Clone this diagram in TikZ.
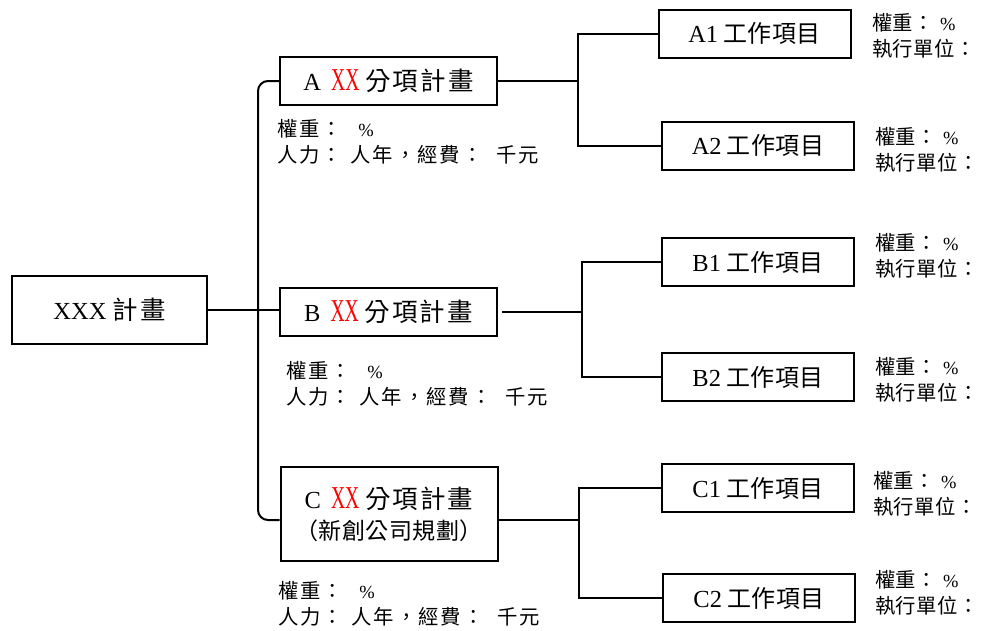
\documentclass[tikz,border=0pt]{standalone}
\usepackage{fontspec}
\setmainfont{Liberation Serif}
\newfontfamily\cjkwide[LetterSpace=8, Scale=1.04]{Noto Sans CJK TC}
\newfontfamily\cjkpar[LetterSpace=2, Scale=0.94]{Noto Sans CJK TC}
\newfontfamily\cjkitem[LetterSpace=2, Scale=0.98]{Noto Sans CJK TC}
\newfontfamily\cjknote[LetterSpace=10, Scale=1.1]{Noto Sans CJK TC}
\newfontfamily\cjkside[LetterSpace=2, Scale=1.1]{Noto Sans CJK TC}
\usetikzlibrary{positioning}
\tikzset{
	box/.style={draw, line width=2pt, inner sep=0pt, align=center},
	plan/.style={box, minimum width=195pt, minimum height=68pt},
	subplan/.style={box, minimum width=217pt, minimum height=48pt},
	item/.style={box, minimum width=192pt, minimum height=48pt},
	note/.style={anchor=west, align=left, inner sep=0pt, font=\fontsize{18.5}{26}\selectfont},
	link/.style={line width=2pt}
}
\newcommand{\xx}{\textcolor{red}{\scalebox{0.8}[1.3]{XX}}}
\newcommand{\subnote}{\cjknote 權重：\hspace{16pt}\rmfamily\%\\ \cjknote 人力：\hspace{8pt}人年，經費：\hspace{14pt}千元}
\newcommand{\itemnote}{\cjkside 權重：\hspace{6pt}\rmfamily\%\\ \cjkside 執行單位：}

\begin{document}
\begin{tikzpicture}[x=1pt, y=-1pt, font=\fontsize{24.5}{31}\selectfont]
\useasboundingbox (0,0) rectangle (981,630);
% main plan and sub plans
\node (xxx) [plan] at (109.5,310) {XXX\hspace{6pt}\cjkwide 計畫};
\node (pa) [subplan] at (388.5,81) {A\hspace{10pt}\xx\hspace{6pt}\cjkwide 分項計畫};
\node (pb) [subplan] at (388.5,312) {B\hspace{10pt}\xx\hspace{6pt}\cjkwide 分項計畫};
\node (pc) [subplan, minimum height=94pt] at (389,514) {C\hspace{10pt}\xx\hspace{6pt}\cjkwide 分項計畫\\ \cjkpar （新創公司規劃）};
% work items
\node (a1) [item] at (754.5,33.5) {A1\hspace{5pt}\cjkitem 工作項目};
\node (a2) [item] at (758,145.5) {A2\hspace{5pt}\cjkitem 工作項目};
\node (b1) [item] at (758,262) {B1\hspace{5pt}\cjkitem 工作項目};
\node (b2) [item] at (758,377) {B2\hspace{5pt}\cjkitem 工作項目};
\node (c1) [item] at (758,488) {C1\hspace{5pt}\cjkitem 工作項目};
\node (c2) [item] at (759,598) {C2\hspace{5pt}\cjkitem 工作項目};
% notes
\node (pa-note) [note] at (277,142) {\subnote};
\node (pb-note) [note] at (286,384) {\subnote};
\node (pc-note) [note] at (278,604) {\subnote};
\node (a1-note) [note] at (872,36) {\itemnote};
\node (a2-note) [note] at (875,150) {\itemnote};
\node (b1-note) [note] at (875,256) {\itemnote};
\node (b2-note) [note] at (875,380) {\itemnote};
\node (c1-note) [note] at (873,494) {\itemnote};
\node (c2-note) [note] at (875,593) {\itemnote};
% connectors
\coordinate (trunk) at (258,310);
\coordinate (aj) at (578,81);
\coordinate (bj) at (582,312);
\coordinate (cj) at (579,520);
\draw[link] (xxx.east) -- (xxx.east -| pb.west);
\draw[link, rounded corners=10pt] (pa.west) -| (trunk) |- ([yshift=-6pt]pc.west);
\draw[link] (pa.east) -- (aj);
\draw[link] (a1.west) -| (aj) |- (a2.west);
\draw[link, line width=2.8pt] ([xshift=4pt]pb.east) -- (bj);
\draw[link] (b1.west) -| (bj) |- (b2.west);
\draw[link] ([yshift=-6pt]pc.east) -- (cj);
\draw[link] (c1.west) -| (cj) |- (c2.west);
\end{tikzpicture}
\end{document}
